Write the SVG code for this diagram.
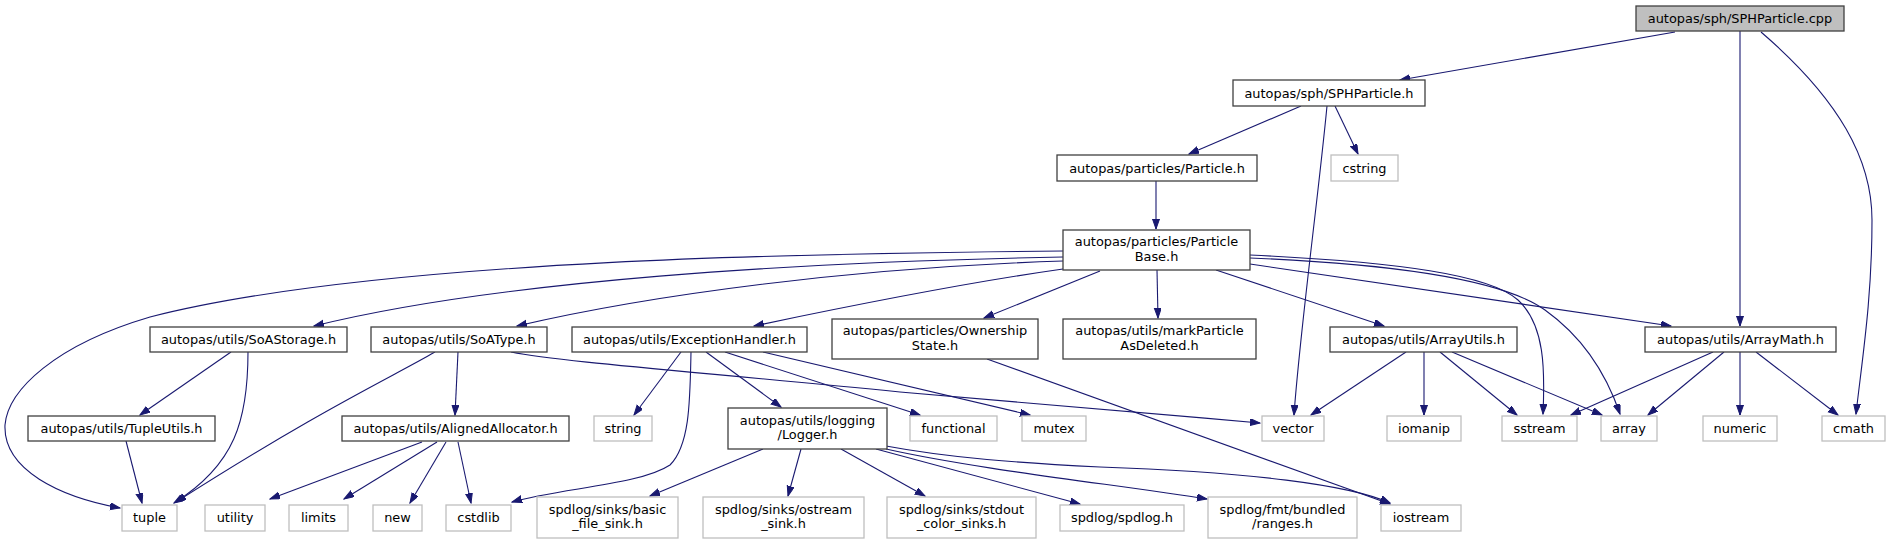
<svg xmlns="http://www.w3.org/2000/svg" width="1888" height="544" viewBox="0 0 1888 544">
<defs>
<marker id="ah" markerUnits="userSpaceOnUse" markerWidth="11" markerHeight="8" refX="10" refY="3.5" orient="auto">
<path d="M0,0 L10,3.5 L0,7 z" fill="#191970" stroke="#191970" stroke-width="1"/>
</marker>
</defs>
<style>
.doc rect{fill:#ffffff;stroke:#404040;stroke-width:1.3}
.sys rect{fill:#ffffff;stroke:#bfbfbf;stroke-width:1.3}
.main rect{fill:#bfbfbf;stroke:#404040;stroke-width:1.3}
text{font-family:"DejaVu Sans","Liberation Sans",sans-serif;font-size:12.9px;fill:#000;text-anchor:middle}
#edges path{fill:none;stroke:#191970;stroke-width:1.1;marker-end:url(#ah)}
</style>
<rect width="1888" height="544" fill="#ffffff"/>
<g id="edges">
<path d="M1675,32 L1400,80"/>
<path d="M1740,31 L1740,326"/>
<path d="M1761,32 C1840,100 1872,160 1872,220 C1872,300 1862,360 1856,414"/>
<path d="M1301,106 L1189,154"/>
<path d="M1335,106 L1358,154"/>
<path d="M1327,106 C1318,200 1300,330 1294,415"/>
<path d="M1156,181 L1156,229"/>
<path d="M1063,251 C837,253 380,258 150,317 C55,345 8,390 5,425 C3,470 60,497 120,508"/>
<path d="M1063,257 C800,262 500,280 314,326"/>
<path d="M1063,261 C850,268 650,295 517,326"/>
<path d="M1063,269 C950,285 830,310 754,326"/>
<path d="M1100,271 L984,318"/>
<path d="M1157,270 L1158,318"/>
<path d="M1216,270 L1384,326"/>
<path d="M1250,264 L1671,326"/>
<path d="M1250,255 C1400,262 1490,275 1518,300 C1545,325 1545,370 1543,414"/>
<path d="M1250,258 C1420,265 1510,285 1545,310 C1580,335 1605,370 1620,414"/>
<path d="M231,352 L140,415"/>
<path d="M248,352 C248,420 235,465 174,503"/>
<path d="M126,441 L142,503"/>
<path d="M435,352 C390,378 320,410 176,502"/>
<path d="M458,352 L455,415"/>
<path d="M511,352 C560,362 700,372 900,392 C1050,406 1150,413 1260,423"/>
<path d="M681,352 L634,415"/>
<path d="M691,352 C690,400 690,445 670,465 C640,485 560,488 512,502"/>
<path d="M706,352 L781,407"/>
<path d="M725,352 L920,415"/>
<path d="M763,352 L1030,415"/>
<path d="M987,359 L1390,504"/>
<path d="M422,442 L270,499"/>
<path d="M437,442 L344,499"/>
<path d="M446,442 L410,503"/>
<path d="M458,442 L471,503"/>
<path d="M763,449 L650,496"/>
<path d="M801,449 L788,496"/>
<path d="M841,449 L925,496"/>
<path d="M876,449 L1080,504"/>
<path d="M886,449 C980,470 1120,485 1207,499"/>
<path d="M886,446 C950,458 1020,463 1100,467 C1250,472 1350,485 1390,503"/>
<path d="M1406,352 L1311,415"/>
<path d="M1424,352 L1424,415"/>
<path d="M1440,352 L1517,415"/>
<path d="M1452,352 L1602,415"/>
<path d="M1713,352 L1571,415"/>
<path d="M1724,352 L1648,415"/>
<path d="M1740,352 L1740,415"/>
<path d="M1756,352 L1838,415"/>
</g>
<g id="n_cpp" class="main"><rect x="1636" y="6" width="208" height="25"/><text x="1740" y="23">autopas/sph/SPHParticle.cpp</text></g>
<g id="n_sphh" class="doc"><rect x="1233" y="80" width="192" height="26"/><text x="1329" y="97.5">autopas/sph/SPHParticle.h</text></g>
<g id="n_particle" class="doc"><rect x="1057" y="155" width="200" height="26"/><text x="1157" y="172.5">autopas/particles/Particle.h</text></g>
<g id="n_cstring" class="sys"><rect x="1331" y="155" width="67" height="26"/><text x="1364.5" y="172.5">cstring</text></g>
<g id="n_pbase" class="doc"><rect x="1063" y="230" width="187" height="40"/><text x="1156.5" y="246">autopas/particles/Particle</text><text x="1156.5" y="261">Base.h</text></g>
<g id="n_soastorage" class="doc"><rect x="150" y="327" width="197" height="25"/><text x="248.5" y="344">autopas/utils/SoAStorage.h</text></g>
<g id="n_soatype" class="doc"><rect x="371" y="327" width="176" height="25"/><text x="459" y="344">autopas/utils/SoAType.h</text></g>
<g id="n_exception" class="doc"><rect x="572" y="327" width="235" height="25"/><text x="689.5" y="344">autopas/utils/ExceptionHandler.h</text></g>
<g id="n_ownership" class="doc"><rect x="832" y="319" width="206" height="40"/><text x="935" y="335">autopas/particles/Ownership</text><text x="935" y="350">State.h</text></g>
<g id="n_markparticle" class="doc"><rect x="1063" y="319" width="193" height="40"/><text x="1159.5" y="335">autopas/utils/markParticle</text><text x="1159.5" y="350">AsDeleted.h</text></g>
<g id="n_arrayutils" class="doc"><rect x="1330" y="327" width="187" height="25"/><text x="1423.5" y="344">autopas/utils/ArrayUtils.h</text></g>
<g id="n_arraymath" class="doc"><rect x="1645" y="327" width="191" height="25"/><text x="1740.5" y="344">autopas/utils/ArrayMath.h</text></g>
<g id="n_tupleutils" class="doc"><rect x="28" y="416" width="187" height="25"/><text x="121.5" y="433">autopas/utils/TupleUtils.h</text></g>
<g id="n_aligned" class="doc"><rect x="342" y="416" width="227" height="25"/><text x="455.5" y="433">autopas/utils/AlignedAllocator.h</text></g>
<g id="n_string" class="sys"><rect x="594" y="416" width="58" height="25"/><text x="623" y="433">string</text></g>
<g id="n_logger" class="doc"><rect x="728" y="408" width="159" height="41"/><text x="807.5" y="425">autopas/utils/logging</text><text x="807.5" y="439">/Logger.h</text></g>
<g id="n_functional" class="sys"><rect x="910" y="416" width="87" height="25"/><text x="953.5" y="433">functional</text></g>
<g id="n_mutex" class="sys"><rect x="1022" y="416" width="64" height="25"/><text x="1054" y="433">mutex</text></g>
<g id="n_vector" class="sys"><rect x="1262" y="416" width="62" height="25"/><text x="1293" y="433">vector</text></g>
<g id="n_iomanip" class="sys"><rect x="1387" y="416" width="74" height="25"/><text x="1424" y="433">iomanip</text></g>
<g id="n_sstream" class="sys"><rect x="1502" y="416" width="75" height="25"/><text x="1539.5" y="433">sstream</text></g>
<g id="n_array" class="sys"><rect x="1601" y="416" width="56" height="25"/><text x="1629" y="433">array</text></g>
<g id="n_numeric" class="sys"><rect x="1703" y="416" width="74" height="25"/><text x="1740" y="433">numeric</text></g>
<g id="n_cmath" class="sys"><rect x="1822" y="416" width="63" height="25"/><text x="1853.5" y="433">cmath</text></g>
<g id="n_tuple" class="sys"><rect x="122" y="505" width="55" height="26"/><text x="149.5" y="522">tuple</text></g>
<g id="n_utility" class="sys"><rect x="205" y="505" width="60" height="26"/><text x="235" y="522">utility</text></g>
<g id="n_limits" class="sys"><rect x="289" y="505" width="59" height="26"/><text x="318.5" y="522">limits</text></g>
<g id="n_new" class="sys"><rect x="373" y="505" width="49" height="26"/><text x="397.5" y="522">new</text></g>
<g id="n_cstdlib" class="sys"><rect x="446" y="505" width="65" height="26"/><text x="478.5" y="522">cstdlib</text></g>
<g id="n_basic" class="sys"><rect x="537" y="497" width="141" height="41"/><text x="607.5" y="514">spdlog/sinks/basic</text><text x="607.5" y="528">_file_sink.h</text></g>
<g id="n_ostream" class="sys"><rect x="703" y="497" width="161" height="41"/><text x="783.5" y="514">spdlog/sinks/ostream</text><text x="783.5" y="528">_sink.h</text></g>
<g id="n_stdout" class="sys"><rect x="887" y="497" width="149" height="41"/><text x="961.5" y="514">spdlog/sinks/stdout</text><text x="961.5" y="528">_color_sinks.h</text></g>
<g id="n_spdlogh" class="sys"><rect x="1060" y="505" width="124" height="26"/><text x="1122" y="522">spdlog/spdlog.h</text></g>
<g id="n_ranges" class="sys"><rect x="1208" y="497" width="149" height="41"/><text x="1282.5" y="514">spdlog/fmt/bundled</text><text x="1282.5" y="528">/ranges.h</text></g>
<g id="n_iostream" class="sys"><rect x="1381" y="505" width="80" height="26"/><text x="1421" y="522">iostream</text></g>
</svg>
